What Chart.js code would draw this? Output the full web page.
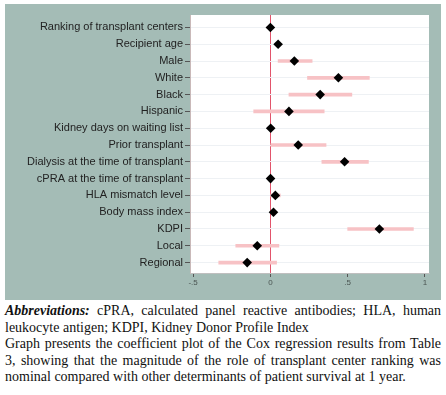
<!DOCTYPE html>
<html>
<head>
<meta charset="utf-8">
<script src="https://cdn.jsdelivr.net/npm/chart.js@4.4.0/dist/chart.umd.min.js"></script>
<style>
  html, body { margin: 0; padding: 0; background: #fff; }
  #wrap { position: relative; width: 446px; height: 395px; overflow: hidden; }
  #plot { position: absolute; left: 0; top: 0; }
  #note {
    position: absolute; left: 5px; top: 303px; width: 436px;
    font-family: "Liberation Serif", serif; font-size: 14px; line-height: 16.6px; color: #111;
  }
  #note div { white-space: nowrap; }
  #note .j { text-align: justify; text-align-last: justify; white-space: normal; }
</style>
</head>
<body>
<div id="wrap">
  <canvas id="plot" width="446" height="300"></canvas>
  <div id="note">
    <div class="j"><b><i>Abbreviations:</i></b> cPRA, calculated panel reactive antibodies; HLA, human</div>
    <div>leukocyte antigen; KDPI, Kidney Donor Profile Index</div>
    <div class="j">Graph presents the coefficient plot of the Cox regression results from Table</div>
    <div class="j">3, showing that the magnitude of the role of transplant center ranking was</div>
    <div>nominal compared with other determinants of patient survival at 1 year.</div>
  </div>
</div>
<script>
// ── Data ──
var labels = [
  'Ranking of transplant centers', 'Recipient age', 'Male', 'White', 'Black',
  'Hispanic', 'Kidney days on waiting list', 'Prior transplant',
  'Dialysis at the time of transplant', 'cPRA at the time of transplant',
  'HLA mismatch level', 'Body mass index', 'KDPI', 'Local', 'Regional'
];
var coef  = [0.000, 0.050, 0.155, 0.440, 0.322, 0.120, 0.002, 0.180, 0.480, 0.001, 0.032, 0.020, 0.705, -0.085, -0.150];
var ciLow = [-0.012, 0.040, 0.050, 0.240, 0.120, -0.108, -0.008, 0.000, 0.333, -0.008, 0.002, 0.010, 0.500, -0.224, -0.334];
var ciHigh= [0.012, 0.062, 0.270, 0.640, 0.527, 0.348, 0.010, 0.360, 0.634, 0.010, 0.064, 0.032, 0.925, 0.055, 0.040];
var xTicks = [-0.5, 0, 0.5, 1];
var xTickLabels = ['-.5', '0', '.5', '1'];

// panel + white plot background
var panelBg = {
  id: 'panelBg',
  beforeDraw: function(chart) {
    var ctx = chart.ctx, a = chart.chartArea;
    ctx.save();
    ctx.fillStyle = '#a4bcb6';
    ctx.fillRect(5, 4, 436, 296);
    ctx.fillStyle = '#ffffff';
    ctx.fillRect(a.left, a.top, a.right - a.left, a.bottom - a.top);
    ctx.restore();
  }
};

var rows = labels.map(function(l, i) { return i; });

new Chart(document.getElementById('plot'), {
  type: 'bar',
  data: {
    datasets: [
      {
        type: 'scatter',
        data: rows.map(function(i) { return { x: coef[i], y: i }; }),
        pointStyle: 'rectRot',
        pointRadius: 4.8,
        backgroundColor: '#000',
        borderColor: '#000',
        borderWidth: 0,
        order: 0
      },
      {
        type: 'bar',
        indexAxis: 'y',
        data: rows.map(function(i) { return { x: [ciLow[i], ciHigh[i]], y: i }; }),
        backgroundColor: '#f7c2c5',
        barThickness: 3,
        borderSkipped: false,
        order: 1
      }
    ]
  },
  options: {
    responsive: false,
    animation: false,
    layout: { padding: { left: 0, right: 17, top: 15, bottom: 0 } },
    plugins: { legend: { display: false }, tooltip: { enabled: false } },
    scales: {
      x: {
        type: 'linear',
        offset: false,
        min: -0.52, max: 1.026,
        afterBuildTicks: function(s) { s.ticks = xTicks.map(function(v) { return { value: v }; }); },
        afterFit: function(s) { s.height = 27; },
        ticks: {
          autoSkip: false, maxRotation: 0, padding: 1,
          color: '#4a5552', font: { family: 'Liberation Sans', size: 8 },
          callback: function(v) { return xTickLabels[xTicks.indexOf(v)]; }
        },
        grid: {
          offset: false, drawOnChartArea: true, tickLength: 4, tickColor: '#555', lineWidth: 1,
          color: function(c) { return c.tick && c.tick.value === 0 ? '#e2546b' : 'rgba(0,0,0,0)'; }
        },
        border: { color: '#bfbfbf' }
      },
      y: {
        type: 'linear',
        offset: false,
        reverse: true,
        min: -0.74, max: 14.62,
        afterBuildTicks: function(s) { s.ticks = rows.map(function(v) { return { value: v }; }); },
        afterFit: function(s) { s.width = 190; },
        ticks: {
          autoSkip: false, padding: 2,
          color: '#222', font: { family: 'Liberation Sans', size: 11 },
          callback: function(v) { return labels[v]; }
        },
        grid: { offset: false, color: '#eef1f4', tickLength: 5, tickColor: '#555', lineWidth: 1 },
        border: { color: '#c9b9b9' }
      }
    }
  },
  plugins: [panelBg]
});
</script>
</body>
</html>
